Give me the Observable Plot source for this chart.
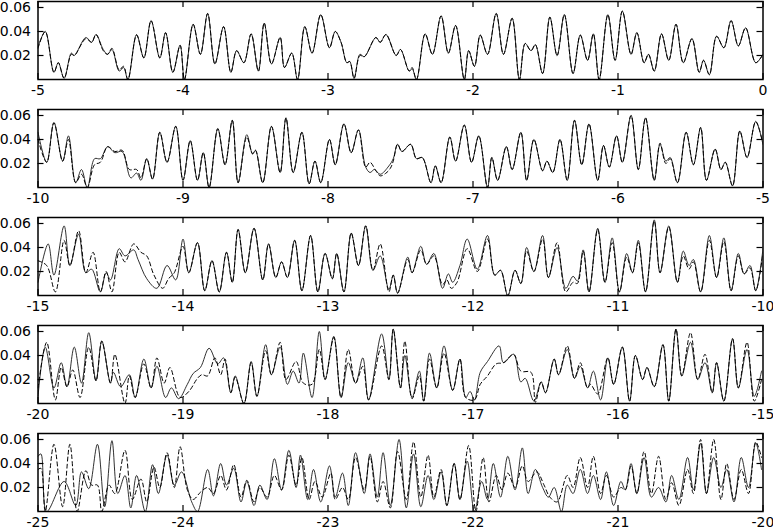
<!DOCTYPE html>
<html><head><meta charset="utf-8">
<script src="https://cdn.jsdelivr.net/npm/d3@7"></script>
<script src="https://cdn.jsdelivr.net/npm/@observablehq/plot@0.6"></script>
<style>
body{margin:0;background:#fff;}
#chart svg{display:block;}
</style></head>
<body><div id="chart"></div>
<script>
// Panel ranges (left end of each x window), tick labels
const panelStarts = [-5, -10, -15, -20, -25];
const xTicks = [[-5,-4,-3,-2,-1,0],[-10,-9,-8,-7,-6,-5],[-15,-14,-13,-12,-11,-10],[-20,-19,-18,-17,-16,-15],[-25,-24,-23,-22,-21,-20]];
const yTicks = [0.02, 0.04, 0.06];

// Panel 1 (-5 .. 0)
const p1Solid = [[-5,0.027],[-4.95,0.040],[-4.89,0.006],[-4.86,0.014],[-4.82,0.001],[-4.77,0.022],[-4.75,0.020],[-4.67,0.035],[-4.63,0.031],[-4.60,0.0375],[-4.55,0.025],[-4.52,0.021],[-4.49,0.025],[-4.44,0.007],[-4.41,0.010],[-4.38,0.000],[-4.32,0.0375],[-4.27,0.018],[-4.22,0.049],[-4.16,0.018],[-4.12,0.039],[-4.07,0.006],[-4.02,0.0285],[-3.99,0.000],[-3.93,0.046],[-3.88,0.021],[-3.83,0.055],[-3.78,0.013],[-3.72,0.044],[-3.67,0.006],[-3.63,0.024],[-3.58,0.014],[-3.53,0.038],[-3.48,0.007],[-3.44,0.047],[-3.39,0.013],[-3.33,0.035],[-3.30,0.010],[-3.25,0.022],[-3.21,0.000],[-3.16,0.044],[-3.11,0.022],[-3.05,0.054],[-2.99,0.0265],[-2.95,0.040],[-2.91,0.031],[-2.87,0.014],[-2.85,0.015],[-2.82,0.001],[-2.78,0.021],[-2.75,0.019],[-2.67,0.035],[-2.64,0.031],[-2.60,0.0375],[-2.53,0.020],[-2.50,0.025],[-2.44,0.007],[-2.42,0.009],[-2.39,0.000],[-2.33,0.038],[-2.28,0.021],[-2.22,0.053],[-2.17,0.022],[-2.12,0.045],[-2.06,0.000],[-2.03,0.024],[-1.99,0.011],[-1.95,0.037],[-1.90,0.021],[-1.84,0.055],[-1.79,0.021],[-1.73,0.051],[-1.68,0.000],[-1.64,0.030],[-1.60,0.024],[-1.57,0.029],[-1.52,0.005],[-1.47,0.052],[-1.42,0.020],[-1.37,0.054],[-1.31,0.005],[-1.26,0.037],[-1.21,0.016],[-1.17,0.038],[-1.13,0.000],[-1.07,0.054],[-1.02,0.016],[-0.97,0.057],[-0.91,0.021],[-0.87,0.039],[-0.82,0.014],[-0.79,0.021],[-0.75,0.007],[-0.70,0.038],[-0.65,0.016],[-0.60,0.046],[-0.55,0.014],[-0.49,0.034],[-0.44,0.006],[-0.41,0.016],[-0.37,0.004],[-0.32,0.036],[-0.27,0.0265],[-0.22,0.049],[-0.17,0.028],[-0.12,0.043],[-0.05,0.014],[0,0.021]];
const p1Dashed = [[-5,0.026],[-4.95,0.040],[-4.89,0.006],[-4.86,0.014],[-4.82,0.001],[-4.77,0.021],[-4.75,0.020],[-4.67,0.034],[-4.63,0.031],[-4.60,0.0375],[-4.55,0.024],[-4.52,0.021],[-4.49,0.026],[-4.44,0.008],[-4.41,0.011],[-4.38,0.000],[-4.32,0.037],[-4.27,0.018],[-4.22,0.049],[-4.16,0.018],[-4.12,0.039],[-4.07,0.006],[-4.02,0.0285],[-3.99,0.000],[-3.93,0.046],[-3.88,0.021],[-3.83,0.055],[-3.78,0.013],[-3.72,0.044],[-3.67,0.006],[-3.63,0.024],[-3.58,0.014],[-3.53,0.038],[-3.48,0.007],[-3.44,0.047],[-3.39,0.013],[-3.33,0.035],[-3.30,0.010],[-3.25,0.022],[-3.21,0.000],[-3.16,0.044],[-3.11,0.022],[-3.05,0.054],[-2.99,0.0265],[-2.95,0.040],[-2.91,0.031],[-2.87,0.014],[-2.85,0.015],[-2.82,0.001],[-2.78,0.020],[-2.75,0.019],[-2.67,0.035],[-2.64,0.031],[-2.60,0.0375],[-2.53,0.020],[-2.50,0.025],[-2.44,0.007],[-2.42,0.010],[-2.39,0.000],[-2.33,0.038],[-2.28,0.021],[-2.22,0.053],[-2.17,0.022],[-2.12,0.045],[-2.06,0.000],[-2.03,0.024],[-1.99,0.011],[-1.95,0.037],[-1.90,0.021],[-1.84,0.055],[-1.79,0.021],[-1.73,0.051],[-1.68,0.000],[-1.64,0.030],[-1.60,0.024],[-1.57,0.029],[-1.52,0.005],[-1.47,0.052],[-1.42,0.020],[-1.37,0.054],[-1.31,0.005],[-1.26,0.037],[-1.21,0.016],[-1.17,0.038],[-1.13,0.000],[-1.07,0.054],[-1.02,0.016],[-0.97,0.057],[-0.91,0.021],[-0.87,0.039],[-0.82,0.014],[-0.79,0.021],[-0.75,0.007],[-0.70,0.038],[-0.65,0.016],[-0.60,0.046],[-0.55,0.014],[-0.49,0.034],[-0.44,0.006],[-0.41,0.016],[-0.37,0.004],[-0.32,0.036],[-0.27,0.0265],[-0.22,0.049],[-0.17,0.028],[-0.12,0.043],[-0.05,0.014],[0,0.021]];

// Panel 2 (-10 .. -5)
const p2Solid = [[-10,0.046],[-9.94,0.021],[-9.89,0.054],[-9.83,0.022],[-9.79,0.043],[-9.74,0.004],[-9.70,0.015],[-9.66,0.000],[-9.61,0.024],[-9.57,0.024],[-9.52,0.034],[-9.47,0.029],[-9.42,0.030],[-9.36,0.008],[-9.32,0.012],[-9.29,0.006],[-9.25,0.024],[-9.21,0.007],[-9.16,0.046],[-9.11,0.021],[-9.05,0.051],[-9.00,0.006],[-8.95,0.039],[-8.90,0.006],[-8.86,0.029],[-8.82,0.000],[-8.76,0.049],[-8.71,0.019],[-8.66,0.056],[-8.62,0.004],[-8.56,0.044],[-8.52,0.028],[-8.50,0.031],[-8.45,0.004],[-8.39,0.051],[-8.33,0.0125],[-8.29,0.058],[-8.24,0.0125],[-8.18,0.046],[-8.13,0.003],[-8.09,0.022],[-8.05,0.004],[-7.99,0.040],[-7.95,0.019],[-7.89,0.053],[-7.84,0.029],[-7.79,0.048],[-7.74,0.017],[-7.71,0.0125],[-7.68,0.015],[-7.64,0.011],[-7.58,0.018],[-7.55,0.024],[-7.52,0.036],[-7.49,0.030],[-7.43,0.036],[-7.39,0.024],[-7.35,0.025],[-7.29,0.004],[-7.26,0.018],[-7.22,0.004],[-7.16,0.042],[-7.12,0.022],[-7.06,0.052],[-7.01,0.021],[-6.96,0.043],[-6.90,0.000],[-6.87,0.025],[-6.83,0.006],[-6.77,0.034],[-6.73,0.015],[-6.67,0.046],[-6.63,0.006],[-6.58,0.040],[-6.52,0.014],[-6.49,0.022],[-6.45,0.0125],[-6.40,0.040],[-6.35,0.006],[-6.30,0.056],[-6.25,0.019],[-6.20,0.053],[-6.14,0.006],[-6.10,0.035],[-6.06,0.017],[-6.01,0.043],[-5.97,0.021],[-5.91,0.060],[-5.86,0.015],[-5.81,0.058],[-5.75,0.006],[-5.71,0.036],[-5.67,0.022],[-5.64,0.025],[-5.59,0.004],[-5.53,0.046],[-5.48,0.019],[-5.43,0.050],[-5.39,0.006],[-5.33,0.032],[-5.29,0.015],[-5.26,0.021],[-5.21,0.0014],[-5.16,0.047],[-5.11,0.025],[-5.05,0.055],[-5.00,0.036]];
const p2Dashed = [[-10,0.040],[-9.94,0.021],[-9.89,0.054],[-9.83,0.022],[-9.79,0.040],[-9.74,0.004],[-9.70,0.011],[-9.66,0.000],[-9.61,0.019],[-9.57,0.021],[-9.52,0.034],[-9.47,0.030],[-9.42,0.031],[-9.37,0.015],[-9.32,0.015],[-9.29,0.008],[-9.25,0.024],[-9.21,0.007],[-9.16,0.046],[-9.11,0.021],[-9.05,0.051],[-9.00,0.006],[-8.95,0.039],[-8.90,0.006],[-8.86,0.029],[-8.82,0.000],[-8.76,0.049],[-8.71,0.019],[-8.66,0.056],[-8.62,0.004],[-8.56,0.042],[-8.52,0.028],[-8.50,0.031],[-8.45,0.004],[-8.39,0.051],[-8.33,0.0125],[-8.29,0.058],[-8.24,0.0125],[-8.18,0.046],[-8.13,0.003],[-8.09,0.022],[-8.05,0.004],[-7.99,0.040],[-7.95,0.019],[-7.89,0.053],[-7.84,0.029],[-7.79,0.048],[-7.74,0.017],[-7.71,0.021],[-7.67,0.014],[-7.64,0.0097],[-7.60,0.012],[-7.57,0.016],[-7.55,0.022],[-7.52,0.036],[-7.49,0.030],[-7.43,0.036],[-7.39,0.024],[-7.35,0.025],[-7.29,0.004],[-7.26,0.018],[-7.22,0.004],[-7.16,0.042],[-7.12,0.022],[-7.06,0.052],[-7.01,0.021],[-6.96,0.043],[-6.90,0.000],[-6.87,0.025],[-6.83,0.006],[-6.77,0.034],[-6.73,0.015],[-6.67,0.046],[-6.63,0.006],[-6.58,0.040],[-6.52,0.014],[-6.49,0.022],[-6.45,0.0125],[-6.40,0.040],[-6.35,0.006],[-6.30,0.056],[-6.25,0.019],[-6.20,0.053],[-6.14,0.006],[-6.10,0.035],[-6.06,0.017],[-6.01,0.043],[-5.97,0.021],[-5.91,0.060],[-5.86,0.015],[-5.81,0.058],[-5.75,0.006],[-5.71,0.037],[-5.67,0.020],[-5.64,0.024],[-5.59,0.004],[-5.53,0.046],[-5.48,0.019],[-5.43,0.050],[-5.39,0.006],[-5.33,0.032],[-5.29,0.015],[-5.26,0.021],[-5.21,0.0014],[-5.16,0.047],[-5.11,0.025],[-5.05,0.055],[-5.00,0.036]];

// Panel 3 (-15 .. -10)
const p3Solid = [[-15,0.011],[-14.93,0.043],[-14.89,0.017],[-14.82,0.058],[-14.78,0.025],[-14.72,0.051],[-14.67,0.019],[-14.63,0.022],[-14.57,0.003],[-14.53,0.019],[-14.50,0.013],[-14.44,0.039],[-14.40,0.033],[-14.34,0.038],[-14.31,0.030],[-14.25,0.014],[-14.18,0.006],[-14.11,0.025],[-14.05,0.013],[-14.00,0.047],[-13.96,0.019],[-13.90,0.044],[-13.85,0.004],[-13.80,0.029],[-13.75,0.003],[-13.70,0.036],[-13.66,0.011],[-13.62,0.055],[-13.57,0.019],[-13.51,0.056],[-13.45,0.013],[-13.41,0.043],[-13.36,0.015],[-13.32,0.028],[-13.28,0.015],[-13.23,0.046],[-13.18,0.004],[-13.12,0.050],[-13.07,0.003],[-13.02,0.035],[-12.97,0.014],[-12.94,0.035],[-12.89,0.003],[-12.84,0.052],[-12.79,0.025],[-12.74,0.058],[-12.69,0.021],[-12.64,0.033],[-12.58,0.005],[-12.55,0.017],[-12.52,0.002],[-12.45,0.032],[-12.42,0.019],[-12.36,0.041],[-12.32,0.026],[-12.27,0.035],[-12.21,0.006],[-12.17,0.018],[-12.14,0.011],[-12.09,0.025],[-12.04,0.047],[-11.97,0.022],[-11.90,0.050],[-11.85,0.017],[-11.81,0.021],[-11.76,0.000],[-11.71,0.021],[-11.67,0.010],[-11.63,0.040],[-11.58,0.020],[-11.52,0.050],[-11.48,0.015],[-11.42,0.040],[-11.36,0.006],[-11.31,0.016],[-11.28,0.012],[-11.24,0.038],[-11.20,0.003],[-11.14,0.056],[-11.09,0.011],[-11.04,0.048],[-10.99,0.003],[-10.94,0.035],[-10.90,0.019],[-10.86,0.046],[-10.81,0.003],[-10.75,0.063],[-10.71,0.019],[-10.65,0.058],[-10.59,0.011],[-10.55,0.037],[-10.51,0.025],[-10.48,0.030],[-10.43,0.003],[-10.37,0.050],[-10.32,0.015],[-10.27,0.048],[-10.22,0.004],[-10.17,0.035],[-10.13,0.018],[-10.09,0.025],[-10.05,0.004],[-10.00,0.039]];
const p3Dashed = [[-15,0.029],[-14.94,0.025],[-14.88,0.003],[-14.82,0.046],[-14.78,0.025],[-14.72,0.054],[-14.67,0.019],[-14.62,0.036],[-14.57,0.003],[-14.53,0.020],[-14.49,0.003],[-14.44,0.036],[-14.40,0.028],[-14.34,0.043],[-14.29,0.036],[-14.25,0.033],[-14.20,0.017],[-14.14,0.006],[-14.10,0.014],[-14.06,0.019],[-14.00,0.041],[-13.96,0.019],[-13.90,0.044],[-13.85,0.004],[-13.80,0.029],[-13.75,0.003],[-13.70,0.036],[-13.66,0.011],[-13.62,0.055],[-13.57,0.019],[-13.51,0.056],[-13.45,0.013],[-13.41,0.043],[-13.36,0.015],[-13.32,0.028],[-13.28,0.015],[-13.23,0.046],[-13.18,0.004],[-13.12,0.050],[-13.07,0.003],[-13.02,0.035],[-12.97,0.014],[-12.94,0.035],[-12.89,0.003],[-12.84,0.052],[-12.79,0.025],[-12.74,0.058],[-12.69,0.021],[-12.64,0.043],[-12.58,0.003],[-12.55,0.017],[-12.52,0.002],[-12.45,0.030],[-12.42,0.019],[-12.36,0.038],[-12.32,0.026],[-12.27,0.033],[-12.21,0.009],[-12.18,0.013],[-12.15,0.006],[-12.11,0.011],[-12.04,0.039],[-11.97,0.020],[-11.90,0.047],[-11.85,0.017],[-11.81,0.021],[-11.76,0.000],[-11.71,0.021],[-11.67,0.010],[-11.63,0.037],[-11.58,0.020],[-11.52,0.047],[-11.48,0.015],[-11.42,0.044],[-11.36,0.003],[-11.31,0.011],[-11.28,0.010],[-11.24,0.037],[-11.20,0.003],[-11.14,0.055],[-11.09,0.011],[-11.04,0.044],[-10.99,0.003],[-10.94,0.032],[-10.90,0.019],[-10.86,0.044],[-10.81,0.003],[-10.75,0.062],[-10.71,0.019],[-10.65,0.057],[-10.59,0.011],[-10.55,0.033],[-10.51,0.022],[-10.48,0.028],[-10.43,0.003],[-10.37,0.046],[-10.32,0.015],[-10.27,0.045],[-10.22,0.004],[-10.17,0.033],[-10.13,0.018],[-10.09,0.023],[-10.05,0.004],[-10.00,0.036]];

// Panel 4 (-20 .. -15)
const p4Solid = [[-20,0.006],[-19.95,0.047],[-19.89,0.013],[-19.84,0.034],[-19.80,0.014],[-19.75,0.047],[-19.70,0.017],[-19.65,0.059],[-19.60,0.019],[-19.56,0.052],[-19.50,0.017],[-19.48,0.026],[-19.43,0.014],[-19.37,0.024],[-19.33,0.005],[-19.27,0.037],[-19.22,0.013],[-19.18,0.031],[-19.12,0.005],[-19.08,0.013],[-19.03,0.004],[-18.97,0.016],[-18.93,0.025],[-18.88,0.030],[-18.82,0.046],[-18.76,0.033],[-18.72,0.038],[-18.67,0.009],[-18.64,0.023],[-18.58,0.000],[-18.53,0.035],[-18.49,0.006],[-18.43,0.049],[-18.39,0.024],[-18.33,0.047],[-18.28,0.016],[-18.24,0.027],[-18.20,0.017],[-18.17,0.042],[-18.11,0.005],[-18.06,0.060],[-18.02,0.020],[-17.96,0.056],[-17.91,0.005],[-17.86,0.034],[-17.81,0.017],[-17.76,0.038],[-17.72,0.003],[-17.63,0.058],[-17.58,0.020],[-17.55,0.062],[-17.50,0.013],[-17.47,0.040],[-17.42,0.005],[-17.37,0.027],[-17.34,0.002],[-17.30,0.042],[-17.25,0.013],[-17.20,0.048],[-17.14,0.011],[-17.09,0.037],[-17.05,0.005],[-17.02,0.010],[-16.99,0.003],[-16.95,0.026],[-16.90,0.035],[-16.82,0.048],[-16.79,0.034],[-16.72,0.041],[-16.67,0.018],[-16.64,0.021],[-16.58,0.002],[-16.53,0.018],[-16.50,0.009],[-16.44,0.037],[-16.41,0.024],[-16.35,0.045],[-16.30,0.021],[-16.26,0.031],[-16.21,0.013],[-16.17,0.027],[-16.12,0.003],[-16.07,0.038],[-16.03,0.016],[-15.97,0.047],[-15.92,0.002],[-15.88,0.040],[-15.83,0.020],[-15.80,0.030],[-15.75,0.014],[-15.69,0.049],[-15.65,0.002],[-15.60,0.062],[-15.56,0.023],[-15.50,0.051],[-15.45,0.020],[-15.40,0.034],[-15.35,0.009],[-15.32,0.034],[-15.27,0.002],[-15.21,0.054],[-15.17,0.013],[-15.11,0.045],[-15.06,0.006],[-15.01,0.027]];
const p4Dashed = [[-20,0.013],[-19.94,0.051],[-19.88,0.003],[-19.84,0.030],[-19.80,0.014],[-19.76,0.028],[-19.71,0.005],[-19.65,0.047],[-19.60,0.019],[-19.56,0.052],[-19.50,0.017],[-19.47,0.041],[-19.40,0.000],[-19.37,0.023],[-19.33,0.005],[-19.27,0.033],[-19.22,0.013],[-19.18,0.038],[-19.13,0.017],[-19.09,0.030],[-19.02,0.005],[-18.96,0.010],[-18.90,0.021],[-18.87,0.024],[-18.83,0.023],[-18.78,0.038],[-18.74,0.024],[-18.71,0.037],[-18.67,0.009],[-18.64,0.022],[-18.58,0.000],[-18.53,0.034],[-18.49,0.006],[-18.43,0.044],[-18.39,0.024],[-18.33,0.051],[-18.29,0.020],[-18.22,0.035],[-18.17,0.017],[-18.11,0.016],[-18.06,0.045],[-18.02,0.020],[-17.96,0.055],[-17.91,0.005],[-17.86,0.045],[-17.81,0.017],[-17.76,0.031],[-17.72,0.003],[-17.63,0.048],[-17.58,0.020],[-17.55,0.062],[-17.50,0.013],[-17.47,0.052],[-17.42,0.004],[-17.37,0.023],[-17.34,0.002],[-17.30,0.037],[-17.25,0.013],[-17.20,0.042],[-17.14,0.011],[-17.09,0.037],[-17.05,0.005],[-16.99,0.003],[-16.95,0.016],[-16.90,0.023],[-16.84,0.033],[-16.79,0.034],[-16.72,0.041],[-16.67,0.027],[-16.60,0.026],[-16.57,0.001],[-16.53,0.018],[-16.50,0.009],[-16.44,0.037],[-16.41,0.024],[-16.35,0.048],[-16.30,0.021],[-16.26,0.034],[-16.21,0.013],[-16.19,0.016],[-16.14,0.008],[-16.07,0.038],[-16.03,0.016],[-15.97,0.047],[-15.92,0.002],[-15.88,0.040],[-15.83,0.020],[-15.80,0.030],[-15.75,0.014],[-15.69,0.049],[-15.65,0.002],[-15.60,0.062],[-15.56,0.023],[-15.50,0.059],[-15.45,0.020],[-15.40,0.041],[-15.35,0.009],[-15.32,0.034],[-15.27,0.002],[-15.21,0.054],[-15.17,0.013],[-15.11,0.051],[-15.06,0.002],[-15.01,0.020]];

// Panel 5 (-25 .. -20)
const p5Solid = [[-25,0.046],[-24.98,0.048],[-24.94,0.000],[-24.82,0.025],[-24.74,0.005],[-24.70,0.033],[-24.65,0.019],[-24.59,0.056],[-24.54,0.004],[-24.49,0.059],[-24.45,0.015],[-24.40,0.030],[-24.36,0.003],[-24.32,0.030],[-24.26,0.000],[-24.21,0.039],[-24.17,0.015],[-24.11,0.047],[-24.06,0.022],[-24.01,0.033],[-23.94,0.008],[-23.90,0.000],[-23.83,0.035],[-23.79,0.013],[-23.74,0.040],[-23.70,0.022],[-23.65,0.036],[-23.60,0.008],[-23.56,0.025],[-23.51,0.005],[-23.47,0.022],[-23.42,0.010],[-23.37,0.044],[-23.32,0.018],[-23.27,0.051],[-23.22,0.020],[-23.19,0.047],[-23.14,0.010],[-23.10,0.035],[-23.05,0.008],[-22.99,0.038],[-22.95,0.012],[-22.90,0.032],[-22.86,0.005],[-22.81,0.049],[-22.75,0.015],[-22.71,0.048],[-22.66,0.012],[-22.62,0.049],[-22.57,0.005],[-22.51,0.060],[-22.46,0.003],[-22.41,0.048],[-22.36,0.004],[-22.31,0.030],[-22.27,0.010],[-22.22,0.033],[-22.18,0.005],[-22.13,0.040],[-22.09,0.010],[-22.04,0.042],[-21.99,0.000],[-21.94,0.025],[-21.90,0.010],[-21.86,0.040],[-21.81,0.012],[-21.76,0.046],[-21.71,0.018],[-21.66,0.053],[-21.62,0.015],[-21.57,0.035],[-21.52,0.020],[-21.48,0.012],[-21.44,0.020],[-21.39,0.000],[-21.35,0.022],[-21.31,0.015],[-21.26,0.035],[-21.21,0.015],[-21.17,0.030],[-21.12,0.010],[-21.08,0.033],[-21.03,0.005],[-20.98,0.025],[-20.95,0.018],[-20.91,0.040],[-20.87,0.015],[-20.82,0.045],[-20.77,0.012],[-20.72,0.020],[-20.67,0.008],[-20.63,0.030],[-20.58,0.010],[-20.52,0.045],[-20.48,0.018],[-20.43,0.057],[-20.39,0.015],[-20.34,0.045],[-20.29,0.020],[-20.25,0.035],[-20.20,0.008],[-20.15,0.045],[-20.10,0.020],[-20.05,0.057],[-20.01,0.035]];
const p5Dashed = [[-25,0.035],[-24.98,0.036],[-24.95,0.000],[-24.89,0.056],[-24.83,0.004],[-24.78,0.056],[-24.73,0.000],[-24.67,0.034],[-24.63,0.022],[-24.59,0.022],[-24.56,0.000],[-24.51,0.022],[-24.47,0.015],[-24.40,0.051],[-24.35,0.010],[-24.29,0.027],[-24.25,0.008],[-24.20,0.037],[-24.16,0.020],[-24.11,0.049],[-24.06,0.020],[-24.02,0.054],[-23.97,0.018],[-23.93,0.010],[-23.88,0.016],[-23.83,0.020],[-23.79,0.015],[-23.74,0.030],[-23.70,0.018],[-23.65,0.039],[-23.60,0.012],[-23.56,0.026],[-23.51,0.008],[-23.47,0.020],[-23.42,0.012],[-23.37,0.030],[-23.32,0.018],[-23.27,0.047],[-23.22,0.022],[-23.18,0.045],[-23.13,0.010],[-23.09,0.025],[-23.04,0.012],[-22.98,0.032],[-22.95,0.010],[-22.90,0.020],[-22.86,0.010],[-22.81,0.045],[-22.75,0.018],[-22.71,0.046],[-22.66,0.008],[-22.62,0.025],[-22.57,0.003],[-22.52,0.050],[-22.46,0.010],[-22.41,0.058],[-22.36,0.012],[-22.31,0.047],[-22.27,0.012],[-22.22,0.035],[-22.18,0.005],[-22.13,0.040],[-22.09,0.010],[-22.03,0.055],[-21.98,0.000],[-21.93,0.045],[-21.89,0.008],[-21.84,0.030],[-21.80,0.018],[-21.76,0.032],[-21.71,0.020],[-21.66,0.038],[-21.62,0.025],[-21.56,0.033],[-21.51,0.022],[-21.47,0.012],[-21.42,0.008],[-21.35,0.030],[-21.31,0.020],[-21.26,0.045],[-21.21,0.020],[-21.17,0.046],[-21.12,0.015],[-21.08,0.030],[-21.03,0.012],[-20.98,0.020],[-20.95,0.018],[-20.91,0.038],[-20.87,0.015],[-20.82,0.050],[-20.77,0.015],[-20.72,0.046],[-20.67,0.010],[-20.63,0.024],[-20.58,0.005],[-20.52,0.035],[-20.48,0.015],[-20.43,0.060],[-20.39,0.015],[-20.34,0.060],[-20.29,0.010],[-20.25,0.040],[-20.20,0.010],[-20.15,0.035],[-20.10,0.015],[-20.05,0.058],[-20.01,0.045]];

const solids = [p1Solid, p2Solid, p3Solid, p4Solid, p5Solid];
const dasheds = [p1Dashed, p2Dashed, p3Dashed, p4Dashed, p5Dashed];

const W = 773, H = 108, ML = 37.5, MR = 10.5, MT = 1, MB = 29;
const innerW = W - ML - MR, innerH = H - MT - MB;
const tick = 6;

const root = document.getElementById("chart");
panelStarts.forEach((lo, i) => {
  const toRows = arr => arr.map(([x, y]) => ({x, y}));
  const svg = Plot.plot({
    width: W, height: H,
    marginLeft: ML, marginRight: MR, marginTop: MT, marginBottom: MB,
    x: {domain: [lo, lo + 5], label: null},
    y: {domain: [0, 0.065], label: null},
    style: {fontFamily: "DejaVu Sans", fontSize: "14px", color: "#000", background: "#fff", overflow: "visible"},
    marks: [
      Plot.line(toRows(solids[i]), {x: "x", y: "y", curve: "catmull-rom", stroke: "#1a1a1a", strokeWidth: 0.9, clip: true}),
      Plot.line(toRows(dasheds[i]), {x: "x", y: "y", curve: "catmull-rom", stroke: "#000", strokeWidth: 1, strokeDasharray: "4,3", clip: true}),
      Plot.tickX(xTicks[i], {x: d => d, insetTop: innerH - tick, stroke: "#000", strokeWidth: 1.2}),
      Plot.tickX(xTicks[i], {x: d => d, insetBottom: innerH - tick, stroke: "#000", strokeWidth: 1.2}),
      Plot.tickY(yTicks, {y: d => d, insetRight: innerW - tick, stroke: "#000", strokeWidth: 1.2}),
      Plot.tickY(yTicks, {y: d => d, insetLeft: innerW - tick, stroke: "#000", strokeWidth: 1.2}),
      Plot.axisX(xTicks[i], {tickSize: 0, tickPadding: 6, tickFormat: d => String(d), fontSize: 14, label: null}),
      Plot.axisY(yTicks, {tickSize: 0, tickPadding: 7, tickFormat: d => d.toFixed(2), fontSize: 14, label: null}),
      Plot.frame({stroke: "#000", strokeWidth: 1.5})
    ]
  });
  root.appendChild(svg);
});
</script>
</body></html>
